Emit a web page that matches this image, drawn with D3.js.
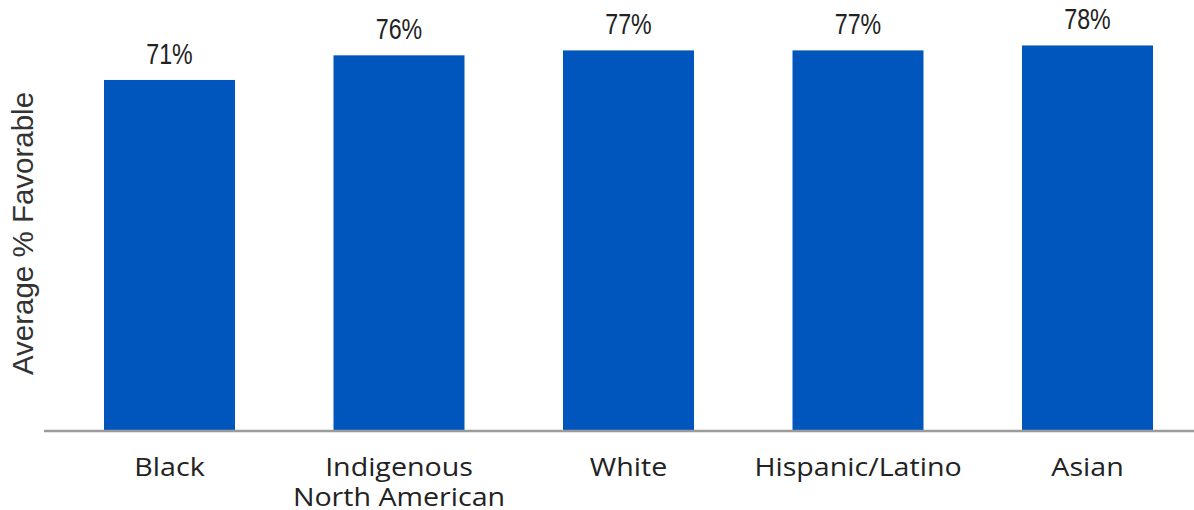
<!DOCTYPE html>
<html>
<head>
<meta charset="utf-8">
<script src="https://cdn.jsdelivr.net/npm/d3@7"></script>
<style>
  html, body { margin: 0; padding: 0; background: #fff; }
  svg { display: block; }
</style>
</head>
<body>
<div id="chart"></div>
<script>
// Average favorable score by race / ethnicity
const categories = ["Black", "Indigenous\nNorth American", "White", "Hispanic/Latino", "Asian"];
const values = [71, 76, 77, 77, 78];
const valueLabels = ["71%", "76%", "77%", "77%", "78%"];
const yTitle = "Average % Favorable";

const W = 1194, H = 510;
const baseY = 430;

const svg = d3.select("#chart").append("svg")
  .attr("width", W).attr("height", H);

const x = d3.scaleBand()
  .domain(categories)
  .range([54.75, 1202.25])
  .paddingInner(0.4292)
  .paddingOuter(0.2146);

const y = d3.scaleLinear()
  .domain([0, 100])
  .range([baseY, baseY - 493]);

// bars
svg.append("g").selectAll("rect")
  .data(categories)
  .join("rect")
  .attr("x", d => x(d))
  .attr("width", x.bandwidth())
  .attr("y", (d, i) => y(values[i]))
  .attr("height", (d, i) => y(0) - y(values[i]))
  .attr("fill", "#0056BC");

// baseline axis
const xAxis = d3.axisBottom(x).tickSize(0).tickFormat("");
const axisG = svg.append("g")
  .attr("transform", `translate(0,${baseY + 1})`)
  .call(xAxis);
axisG.select(".domain").remove();
axisG.append("line")
  .attr("x1", 44).attr("x2", W)
  .attr("stroke", "#9b9b9b").attr("stroke-width", 2.5);

// value labels above the bars
const valScale = 0.8;
svg.append("g").selectAll("text")
  .data(categories)
  .join("text")
  .attr("transform", (d, i) =>
    `translate(${x(d) + x.bandwidth() / 2},${y(values[i]) - 16}) scale(${valScale},1)`)
  .attr("text-anchor", "middle")
  .attr("font-family", "'Liberation Sans', Arial, sans-serif")
  .attr("font-size", 29)
  .attr("fill", "#222")
  .text((d, i) => valueLabels[i]);

// category labels
const catScale = 1.1;
const catG = svg.append("g");
categories.forEach(c => {
  const lines = c.split("\n");
  const t = catG.append("text")
    .attr("transform", `translate(${x(c) + x.bandwidth() / 2},476) scale(${catScale},1)`)
    .attr("text-anchor", "middle")
    .attr("font-family", "'Open Sans', sans-serif")
    .attr("font-size", 26)
    .attr("fill", "#222");
  lines.forEach((ln, k) => {
    t.append("tspan").attr("x", 0).attr("dy", k === 0 ? 0 : 30).text(ln);
  });
});

// y-axis title
svg.append("text")
  .attr("transform", "translate(33,233.5) rotate(-90)")
  .attr("text-anchor", "middle")
  .attr("font-family", "'Liberation Sans', Arial, sans-serif")
  .attr("font-size", 29.5)
  .attr("fill", "#333")
  .text(yTitle);
</script>
</body>
</html>
